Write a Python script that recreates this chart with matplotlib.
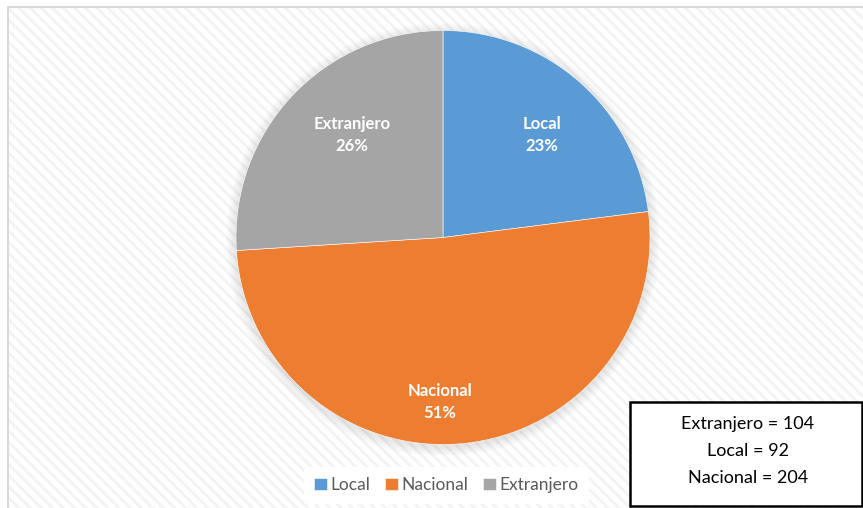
import matplotlib.pyplot as plt
from matplotlib.patches import Rectangle, Circle
import numpy as np

labels = ["Local", "Nacional", "Extranjero"]
values = [92, 204, 104]
colors = ["#5B9BD5", "#ED7D31", "#A5A5A5"]

# where each data label sits: (fraction of radius, angle in degrees)
label_pos = [(0.69, 46), (0.795, -91), (0.66, 131.6)]

W, H = 863, 508
plt.rcParams["font.family"] = ["Lato", "DejaVu Sans"]
plt.rcParams["hatch.linewidth"] = 2.0

fig = plt.figure(figsize=(W / 100, H / 100), dpi=100)
fig.patch.set_facecolor("white")

# chart area with light diagonal texture
bg = Rectangle((8 / W, 0), 1, 1 - 7 / H, transform=fig.transFigure,
               facecolor="white", edgecolor="#f3f3f3", hatch="\\\\\\",
               linewidth=0, zorder=0)
fig.patches.append(bg)
border = Rectangle((8 / W, -0.1), 1, 1.1 - 7 / H, transform=fig.transFigure,
                   facecolor="none", edgecolor="#d9d9d9", linewidth=1.5, zorder=1)
fig.patches.append(border)

# pie axes: center (443, 237.5), radius 207 px
cx, cy, r = 443, 237.5, 207
pad = 1.05
ax = fig.add_axes([(cx - r * pad) / W, (H - cy - r * pad) / H,
                   2 * r * pad / W, 2 * r * pad / H])
ax.set_zorder(3)
ax.axis("off")

# soft shadow
for k in range(8):
    ax.add_patch(Circle((0.0, -0.01), 1.0 + 0.006 * (8 - k), color="black",
                        alpha=0.012, lw=0, zorder=0))

wedges, _ = ax.pie(values, colors=colors, startangle=90, counterclock=False,
                   radius=1.0, wedgeprops=dict(edgecolor="white", linewidth=0.4))
for w in wedges:
    w.set_zorder(2)
ax.set_xlim(-pad, pad)
ax.set_ylim(-pad, pad)

total = sum(values)
for lab, v, (d, a) in zip(labels, values, label_pos):
    ang = np.deg2rad(a)
    ax.text(d * np.cos(ang), d * np.sin(ang), f"{lab}\n{round(100 * v / total)}%",
            ha="center", va="center", color="white", fontsize=12,
            fontweight="bold", linespacing=1.45, zorder=3)

leg = fig.legend(wedges, labels, loc="center", bbox_to_anchor=(446 / W, (H - 485) / H),
                 ncol=3, frameon=True, fontsize=12.5, handlelength=0.75, handleheight=0.75,
                 handletextpad=0.2, columnspacing=0.85, borderpad=0.55)
leg.set_zorder(4)
leg.get_frame().set_facecolor("white")
leg.get_frame().set_edgecolor("white")
leg.get_frame().set_alpha(1)
for t in leg.get_texts():
    t.set_color("#595959")

# value box
box_txt = "\n".join(f"{lab} = {v}" for lab, v in
                    sorted(zip(labels, values)))
fig.patches.append(Rectangle((630 / W, 2 / H), 232 / W, 104 / H,
                             transform=fig.transFigure, facecolor="white",
                             edgecolor="black", linewidth=1.8, zorder=5))
fig.text(748 / W, (H - 451) / H, box_txt, ha="center", va="center",
         fontsize=13, linespacing=1.85, color="black", zorder=6)

fig.savefig("out.png", dpi=100, facecolor="white")
